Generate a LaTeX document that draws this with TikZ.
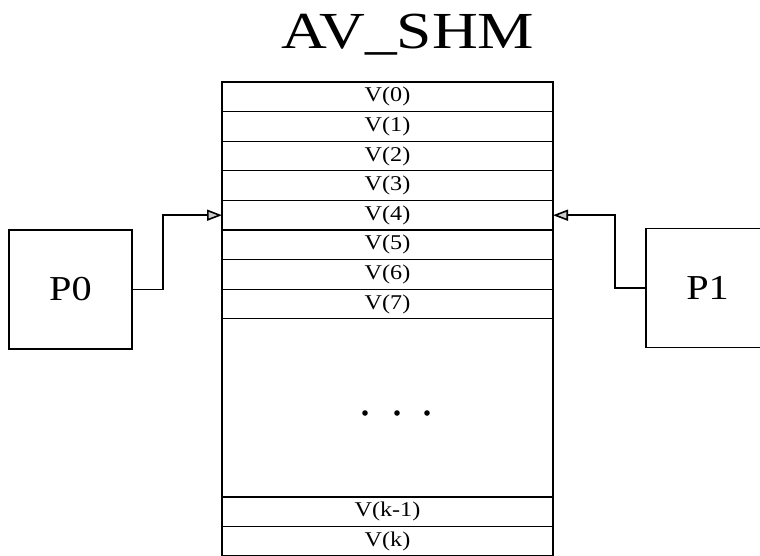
\documentclass[tikz,border=0pt]{standalone}
\usepackage{fontspec}
\setmainfont{Liberation Serif}[FakeStretch=1.15]
\newfontfamily\titlefont{Liberation Serif}[FakeStretch=1.22]
\usetikzlibrary{arrows.meta, positioning}

\begin{document}
\begin{tikzpicture}[
    x=1pt, y=-1pt,
    node distance=0pt,
    cell/.style={rectangle, draw, line width=1.1pt, minimum width=331pt, minimum height=29.6pt, inner sep=0pt, outer sep=0pt, font=\fontsize{21}{21}\selectfont},
    proc/.style={rectangle, draw, line width=1.6pt, minimum width=123pt, minimum height=119pt, font=\fontsize{35}{35}\selectfont},
    arrow/.style={-{Triangle[length=15pt, width=11pt, fill=gray!40]}, line width=1.6pt}
]
\useasboundingbox (0,0) rectangle (760,555);
\clip (0,0) rectangle (760,555);

% title
\node[font=\titlefont\fontsize{52}{52}\selectfont, anchor=base] (title) at (408,48) {AV\_SHM};

% shared memory rows
\node[cell, anchor=north] (v0) at (387.5,82) {V(0)};
\node[cell, below=of v0] (v1) {V(1)};
\node[cell, below=of v1] (v2) {V(2)};
\node[cell, below=of v2] (v3) {V(3)};
\node[cell, below=of v3] (v4) {V(4)};
\node[cell, below=of v4] (v5) {V(5)};
\node[cell, below=of v5] (v6) {V(6)};
\node[cell, below=of v6] (v7) {V(7)};
\node[cell, anchor=north] (vk1) at (387.5,497) {V(k-1)};
\node[cell, below=of vk1] (vk) {V(k)};
\draw[line width=2.6pt] (v0.north west) rectangle (vk.south east);

% dots
\foreach \x in {365,397,427}
    \fill (\x,413) circle (2.8pt);

% processes
\node[proc] (p0) at (70.5,289.5) {P0};
\node[proc] (p1) at (707.5,288) {P1};

% arrows to V(4)
\draw[arrow] (p0.east) -- ++(30,0) |- (v4.west);
\draw[arrow] (p1.west) -- ++(-30,0) |- (v4.east);

\end{tikzpicture}
\end{document}
